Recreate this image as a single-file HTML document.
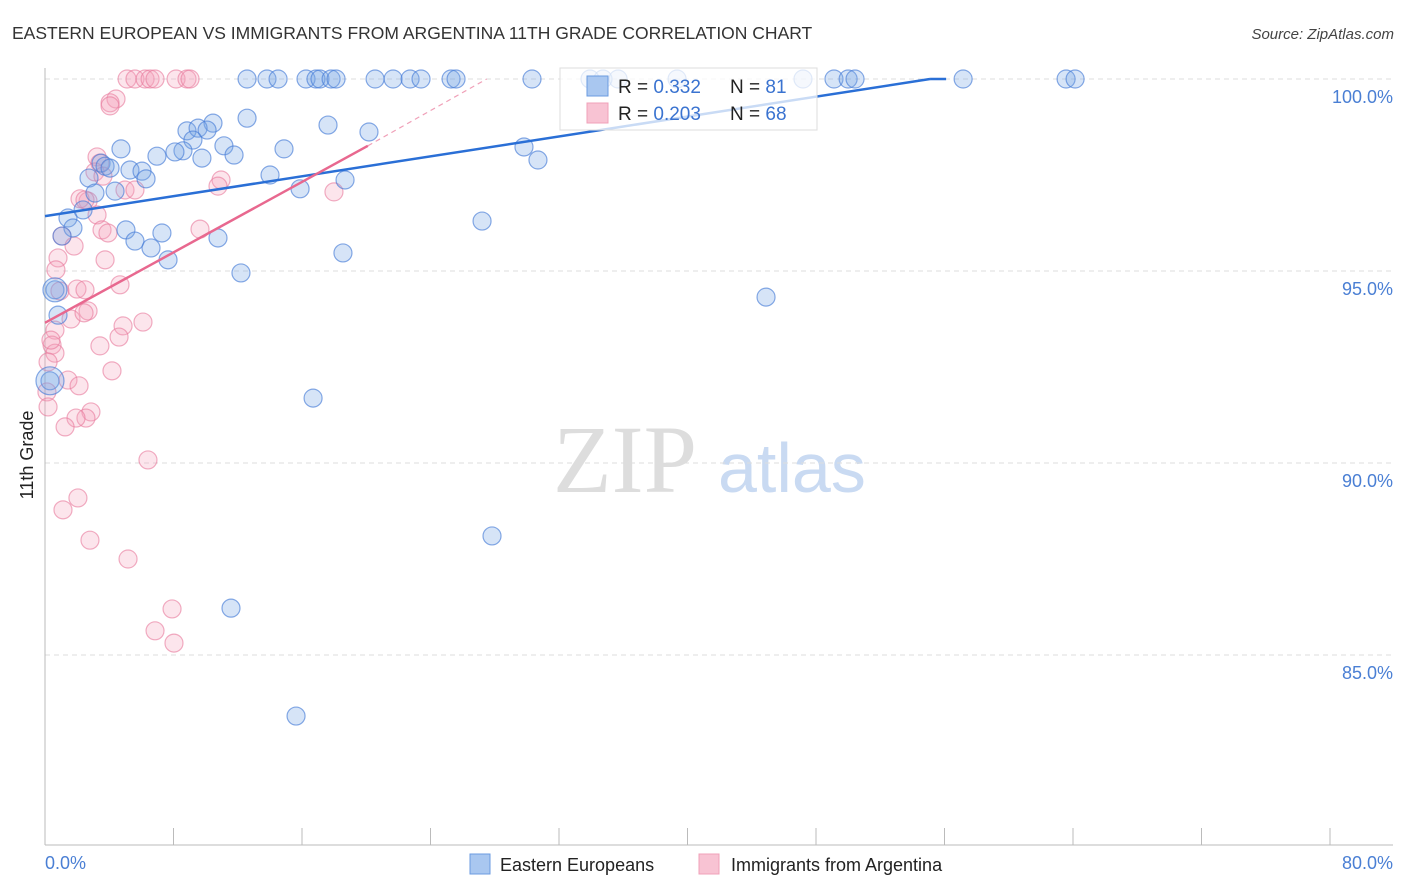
<!DOCTYPE html>
<html><head><meta charset="utf-8"><style>
body{margin:0;background:#fff;font-family:"Liberation Sans",sans-serif;}
svg{display:block}
</style></head><body>
<svg id="chart" width="1406" height="892" viewBox="0 0 1406 892" xmlns="http://www.w3.org/2000/svg">
<text x="12" y="39" font-size="17.5" fill="#333">EASTERN EUROPEAN VS IMMIGRANTS FROM ARGENTINA 11TH GRADE CORRELATION CHART</text>
<text x="1394" y="39" font-size="15" fill="#444" font-style="italic" text-anchor="end">Source: ZipAtlas.com</text>
<g>
<text x="553" y="492" font-size="96" fill="#ddd" font-family="Liberation Serif,serif">ZIP</text>
<text x="718" y="492" font-size="70" fill="#c9daf2">atlas</text>
</g>
<g id="grid"></g>
<g id="axes"></g>
<g id="pinkPts"></g>
<g id="bluePts"></g>
<g id="trends"></g>
<g>
<rect x="560" y="68" width="257" height="62" fill="rgba(255,255,255,0.75)" stroke="#ddd"/>
<rect x="587" y="76" width="21" height="20" fill="#a9c7f0" stroke="#6b9be0"/>
<rect x="587" y="103" width="21" height="20" fill="#f8c3d3" stroke="#f0a0b8"/>
<text x="618" y="93" font-size="19" fill="#222">R = <tspan fill="#3a73d0">0.332</tspan></text>
<text x="730" y="93" font-size="19" fill="#222">N = <tspan fill="#3a73d0"> 81</tspan></text>
<text x="618" y="120" font-size="19" fill="#222">R = <tspan fill="#3a73d0">0.203</tspan></text>
<text x="730" y="120" font-size="19" fill="#222">N = <tspan fill="#3a73d0">68</tspan></text>
</g>
<text transform="translate(33,455) rotate(-90)" font-size="18" fill="#222" text-anchor="middle">11th Grade</text>
<text x="45" y="869" font-size="18" fill="#4a7fd4">0.0%</text>
<text x="1393" y="869" font-size="18" fill="#4a7fd4" text-anchor="end">80.0%</text>
<g>
<rect x="470" y="854" width="20" height="20" fill="#a9c7f0" stroke="#6b9be0"/>
<text x="500" y="871" font-size="18" fill="#222">Eastern Europeans</text>
<rect x="699" y="854" width="20" height="20" fill="#f8c3d3" stroke="#f0a0b8"/>
<text x="731" y="871" font-size="18" fill="#222">Immigrants from Argentina</text>
</g>
</svg>
<script>
const yTicks=[100,95,90,85];
const yTickLabels=["100.0%","95.0%","90.0%","85.0%"];
const xTicks=[0,8,16,24,32,40,48,56,64,72,80];
const blueX=[12.58,13.82,14.51,16.25,16.87,17.12,17.81,18.12,20.55,21.67,22.73,23.41,25.28,25.59,30.32,33.93,34.74,35.68,39.35,47.19,49.12,50.0,50.43,57.16,63.57,64.13,
12.58,10.46,8.84,9.53,10.09,9.21,11.14,4.73,6.97,8.59,8.09,9.77,11.77,14.88,17.62,20.17,3.49,3.74,4.05,5.29,6.04,6.29,2.74,3.11,4.36,14.01,15.88,18.68,29.82,30.69,1.43,1.74,2.37,1.06,5.04,5.60,6.60,7.28,7.66,10.77,12.20,18.55,27.21,44.89,0.62,0.81,0.31,16.69,27.83,11.58,15.63];
const blueY=[100,100,100,100,100,100,100,100,100,100,100,100,100,100,100,100,100,100,100,100,100,100,100,100,100,100,
98.98,98.85,98.65,98.72,98.67,98.41,98.26,98.18,97.99,98.13,98.10,97.94,98.02,98.18,98.80,98.62,97.81,97.73,97.68,97.63,97.60,97.40,97.42,97.03,97.08,97.50,97.14,97.37,98.23,97.89,96.38,96.12,96.59,95.91,96.07,95.78,95.60,95.99,95.29,95.86,94.95,95.47,96.30,94.32,94.51,93.85,92.14,91.69,88.10,86.22,83.41];
const blueBigX=[0.62,0.31];
const blueBigY=[94.51,92.14];
const pinkX=[5.11,5.60,6.23,6.54,6.85,8.16,8.84,9.03,4.42,4.05,4.05,3.24,3.42,3.11,3.61,4.98,5.60,2.68,2.18,2.49,3.24,3.55,3.92,10.96,10.77,17.99,9.65,1.06,1.81,0.81,3.74,4.67,0.93,1.99,2.49,2.68,1.62,0.62,2.43,4.86,6.10,4.61,3.42,0.44,0.62,4.17,0.19,1.43,2.12,0.12,0.19,2.86,2.55,1.93,1.25,6.41,2.05,1.12,2.80,5.17,7.91,6.85,8.03,0.68,0.37];
const pinkY=[100,100,100,100,100,100,100,100,99.48,99.38,99.30,97.97,97.81,97.58,97.47,97.11,97.11,96.82,96.88,96.85,96.46,96.07,95.99,97.37,97.21,97.06,96.09,95.91,95.65,95.34,95.29,94.64,94.48,94.53,94.51,93.96,93.75,93.46,93.91,93.57,93.67,93.28,93.05,93.07,92.86,92.40,92.63,92.16,92.01,91.85,91.46,91.33,91.17,91.17,90.94,90.08,89.09,88.78,87.99,87.50,86.20,85.63,85.31,95.03,93.20];
const blueTrend=[[0,96.43],[55.1,100]];
const pinkTrend=[[0,93.65],[20.1,98.26]];
const pinkTrendExt=[[20.1,98.26],[27.5,100]];

const NS="http://www.w3.org/2000/svg";
const X0=45,X1=1330,Y0=79,PXPER=38.4;
function sx(v){return X0+(X1-X0)*v/80;}
function sy(v){return Y0+(100-v)*PXPER;}
function mk(tag,attrs,parent){const e=document.createElementNS(NS,tag);for(const k in attrs)e.setAttribute(k,attrs[k]);parent.appendChild(e);return e;}
const grid=document.getElementById('grid');
yTicks.forEach((t,i)=>{
 const l=mk('line',{x1:X0,x2:1393,y1:sy(t),y2:sy(t),stroke:'#ddd','stroke-dasharray':'5,4'},grid);
 
 
 const tx=mk('text',{x:1393,y:sy(t)+24,'font-size':18,fill:'#4a7fd4','text-anchor':'end'},grid);
 tx.textContent=yTickLabels[i];
 
 
});
const axes=document.getElementById('axes');
let a=mk('line',{x1:X0,x2:X0,y1:68,y2:845,stroke:'#bbb'},axes);


a=mk('line',{x1:X0,x2:1393,y1:845,y2:845,stroke:'#bbb'},axes);


xTicks.forEach(t=>{
 const l=mk('line',{x1:sx(t),x2:sx(t),y1:828,y2:845,stroke:'#bbb'},axes);
 
 
});
const pg=document.getElementById('pinkPts');
pinkX.forEach((x,i)=>{
 const c=mk('circle',{cx:sx(x),cy:sy(pinkY[i]),r:9,fill:'rgba(244,160,188,0.28)',stroke:'rgba(232,120,155,0.6)','stroke-width':1.2},pg);
 
 
});
const bg=document.getElementById('bluePts');
blueX.forEach((x,i)=>{
 const c=mk('circle',{cx:sx(x),cy:sy(blueY[i]),r:9,fill:'rgba(120,165,230,0.3)',stroke:'rgba(70,125,215,0.65)','stroke-width':1.2},bg);
 
 
});
blueBigX.forEach((x,i)=>{
 const c=mk('circle',{cx:sx(x),cy:sy(blueBigY[i]),r:12+i*2,fill:'rgba(120,165,230,0.3)',stroke:'rgba(70,125,215,0.65)','stroke-width':1.2},bg);
 
 
});
const tg=document.getElementById('trends');
let t=mk('line',{x1:sx(blueTrend[0][0]),y1:sy(blueTrend[0][1]),x2:sx(blueTrend[1][0]),y2:sy(blueTrend[1][1]),stroke:'#2a6fd6','stroke-width':2.5},tg);


t=mk('line',{x1:sx(blueTrend[1][0]),y1:sy(100),x2:sx(56.1),y2:sy(100),stroke:'#2a6fd6','stroke-width':2.5},tg);


t=mk('line',{x1:sx(pinkTrend[0][0]),y1:sy(pinkTrend[0][1]),x2:sx(pinkTrend[1][0]),y2:sy(pinkTrend[1][1]),stroke:'#e8688f','stroke-width':2.5},tg);


t=mk('line',{x1:sx(pinkTrendExt[0][0]),y1:sy(pinkTrendExt[0][1]),x2:sx(pinkTrendExt[1][0]),y2:sy(pinkTrendExt[1][1]),stroke:'#f0a0b8','stroke-width':1.2,'stroke-dasharray':'5,4'},tg);


</script>
</body></html>
